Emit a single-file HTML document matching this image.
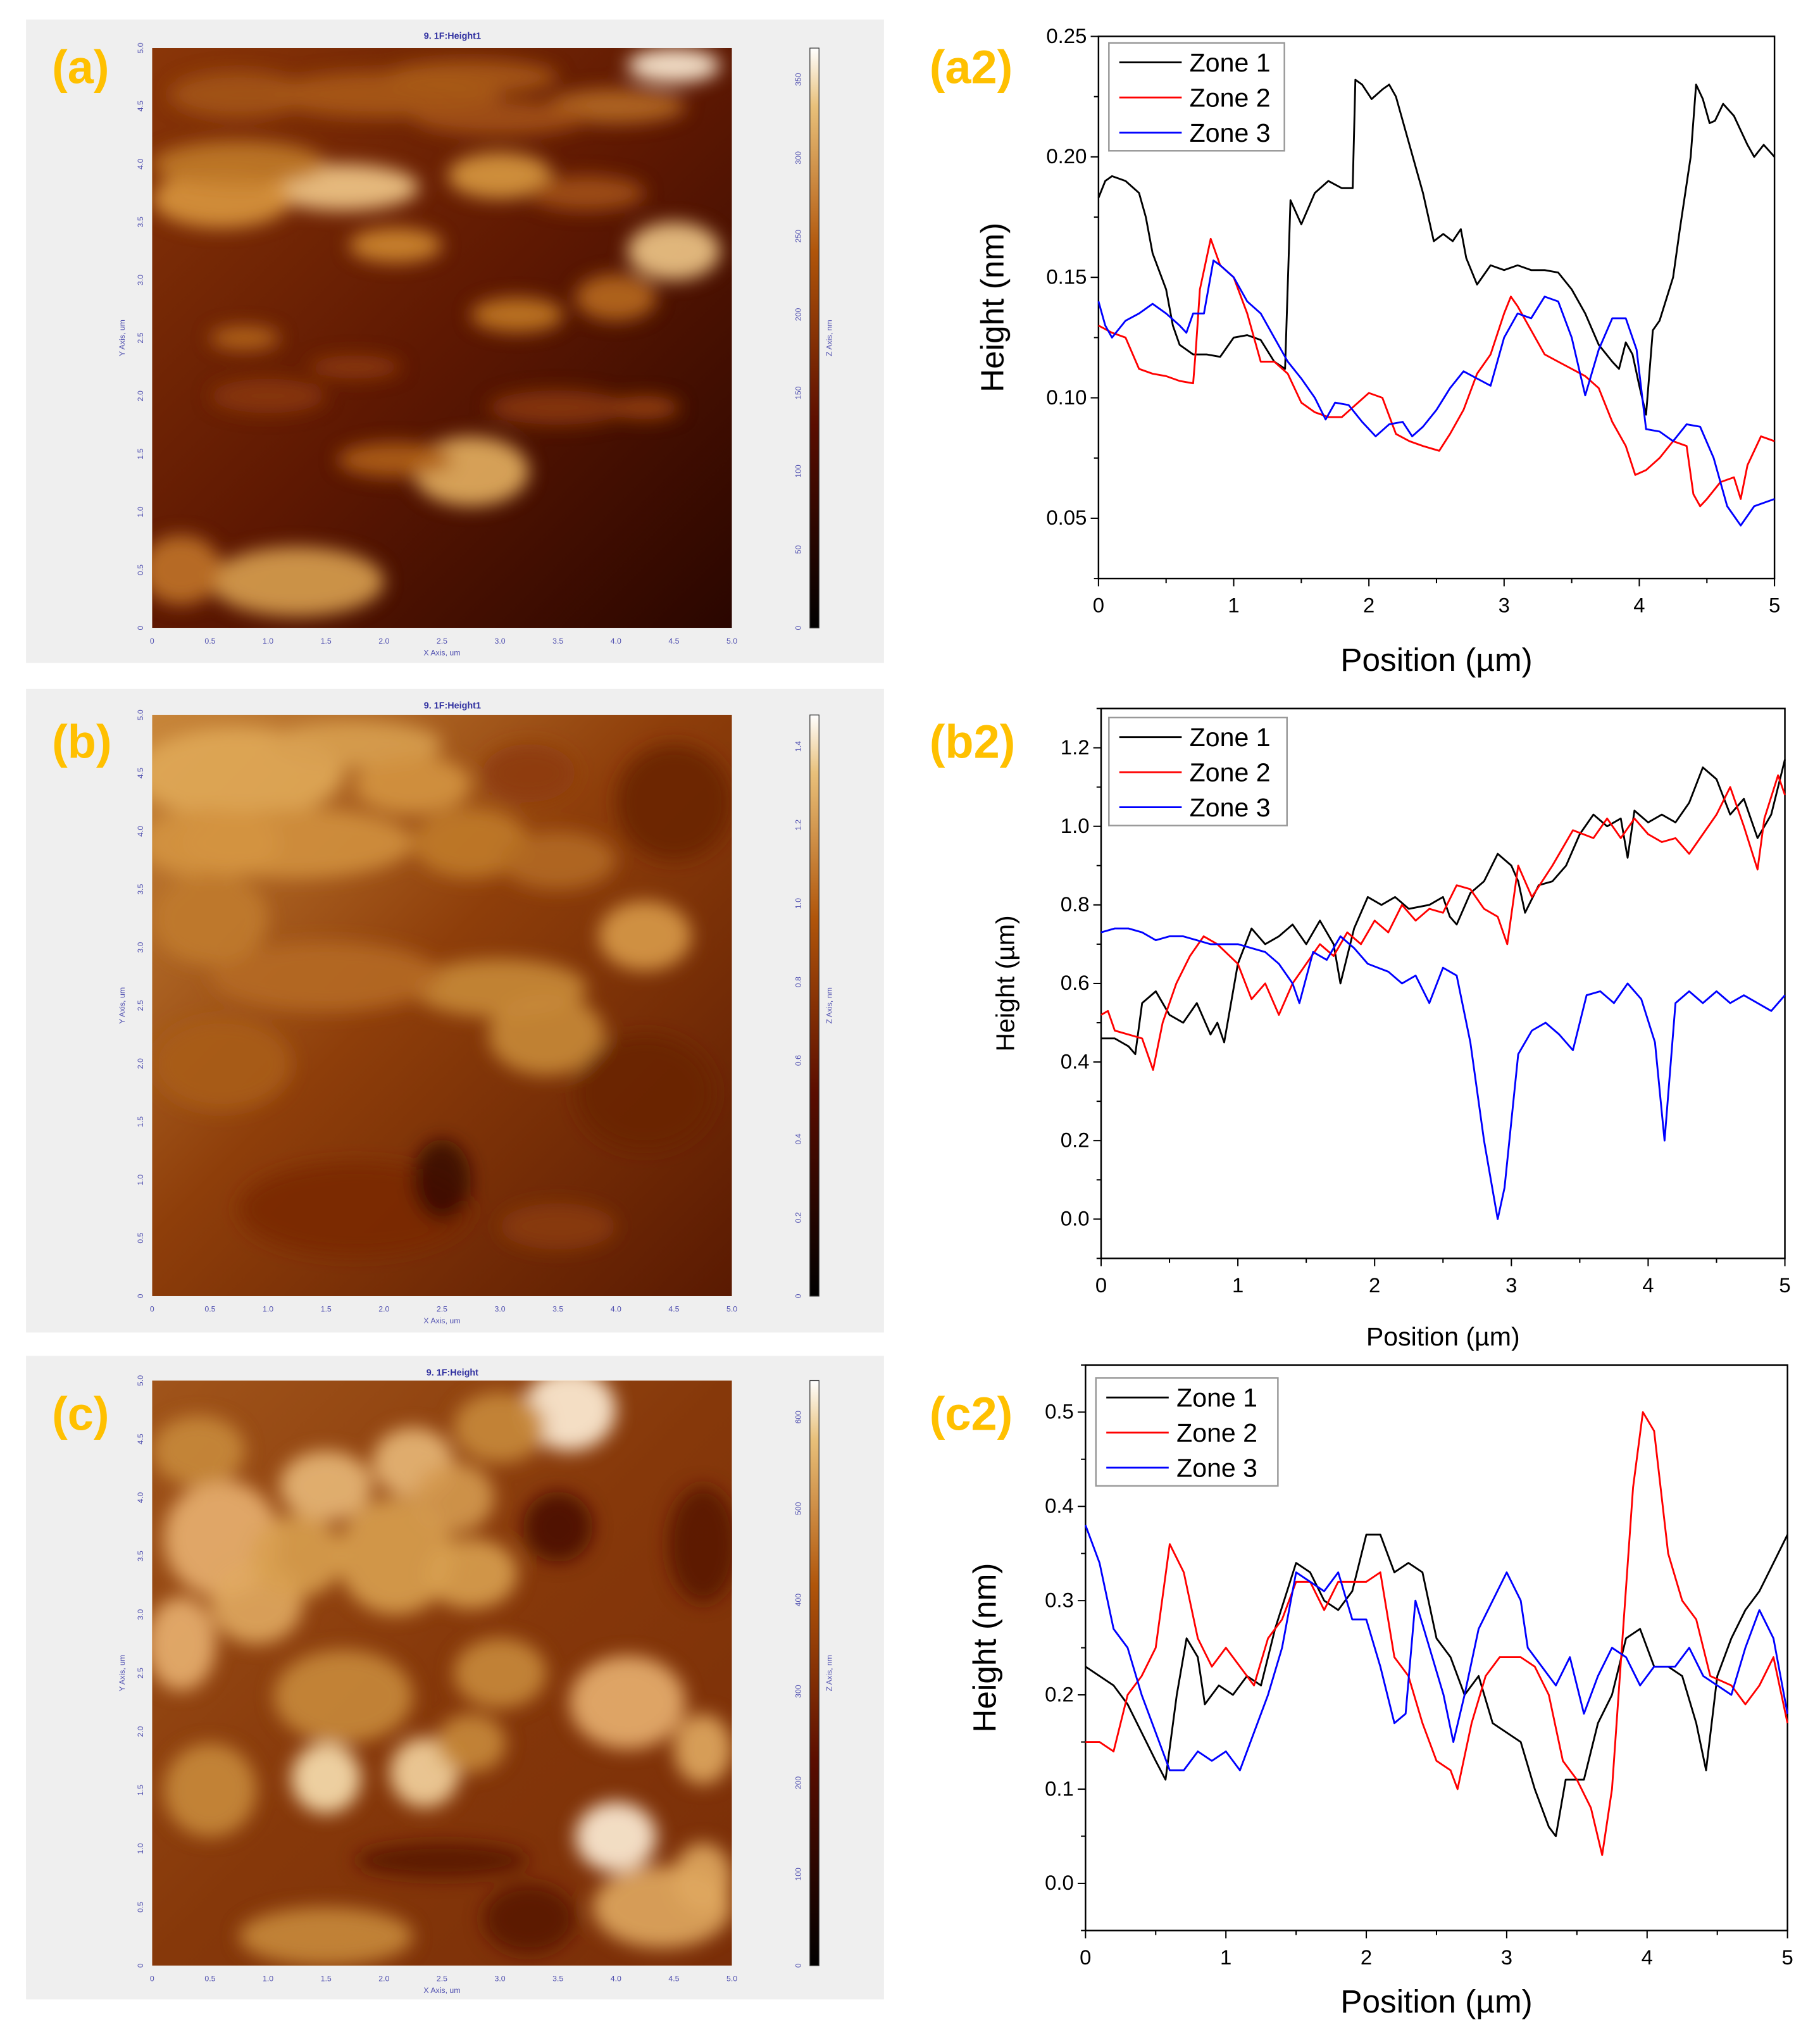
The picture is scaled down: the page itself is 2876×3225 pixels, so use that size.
<!DOCTYPE html>
<html><head><meta charset="utf-8">
<style>
html,body{margin:0;padding:0;background:#fff;}
svg{display:block;}
text{font-family:"Liberation Sans",Arial,sans-serif;}
</style></head>
<body>
<svg id="root" xmlns="http://www.w3.org/2000/svg" width="2876" height="3225" viewBox="0 0 1400 1570" preserveAspectRatio="none">
<defs>
<filter id="blur8" x="-50%" y="-50%" width="200%" height="200%"><feGaussianBlur stdDeviation="7"/></filter>
<linearGradient id="cbar" x1="0" y1="1" x2="0" y2="0">
<stop offset="0" stop-color="#000"/><stop offset="0.35" stop-color="#5a0d00"/><stop offset="0.65" stop-color="#b0550a"/><stop offset="0.9" stop-color="#e8c07a"/><stop offset="1" stop-color="#fff"/>
</linearGradient>
<linearGradient id="bgA" x1="0" y1="0" x2="1" y2="1">
<stop offset="0" stop-color="#8a3608"/><stop offset="0.5" stop-color="#5e1802"/><stop offset="1" stop-color="#2a0600"/>
</linearGradient>
<linearGradient id="bgB" x1="0" y1="0" x2="1" y2="1">
<stop offset="0" stop-color="#c8863a"/><stop offset="0.45" stop-color="#8e3e0a"/><stop offset="1" stop-color="#5a1a02"/>
</linearGradient>
<linearGradient id="bgC" x1="0" y1="0" x2="1" y2="1">
<stop offset="0" stop-color="#a0541a"/><stop offset="0.5" stop-color="#86380a"/><stop offset="1" stop-color="#7a2e08"/>
</linearGradient>
<clipPath id="clipA"><rect x="117" y="37" width="446" height="446"/></clipPath>
<clipPath id="clipB"><rect x="117" y="550" width="446" height="447"/></clipPath>
<clipPath id="clipC"><rect x="117" y="1062" width="446" height="450"/></clipPath>
</defs>
<g id="afm"></g>
<g id="charts"></g>
</svg>
<script>
const NS="http://www.w3.org/2000/svg";
function mk(tag,attrs,parent){const e=document.createElementNS(NS,tag);for(const k in attrs)e.setAttribute(k,attrs[k]);parent.appendChild(e);return e;}
const afm=document.getElementById('afm');
const charts=document.getElementById('charts');

/* ---------- AFM images (decorative) ---------- */
const blobsA=[[0.9,0.03,0.08,0.03,'#fff0d8'],[0.33,0.24,0.13,0.04,'#f2c98a'],[0.12,0.26,0.12,0.05,'#d9963e'],[0.15,0.2,0.15,0.04,'#c07a2a'],[0.6,0.22,0.09,0.04,'#d99a40'],[0.9,0.35,0.08,0.05,'#f0c888'],[0.42,0.34,0.08,0.03,'#d08a30'],[0.8,0.43,0.07,0.04,'#b86a1e'],[0.63,0.46,0.08,0.03,'#c47a24'],[0.16,0.5,0.06,0.02,'#b86a1e'],[0.55,0.73,0.1,0.06,'#e4b060'],[0.42,0.71,0.1,0.03,'#b06018'],[0.25,0.92,0.15,0.06,'#d8a050'],[0.05,0.9,0.07,0.06,'#c07428'],[0.4,0.08,0.2,0.04,'#a85a18'],[0.8,0.1,0.12,0.03,'#b56a22'],[0.2,0.6,0.1,0.03,'#8a3608'],[0.7,0.62,0.12,0.03,'#8a3608'],[0.6,0.12,0.15,0.03,'#a35216'],[0.15,0.08,0.12,0.04,'#a45418'],[0.55,0.05,0.15,0.03,'#a85a1a'],[0.75,0.25,0.1,0.03,'#a35216'],[0.35,0.55,0.08,0.02,'#8e3c0a'],[0.85,0.62,0.06,0.02,'#9a4410']];
const blobsB=[[0.15,0.1,0.18,0.08,'#e0a858'],[0.35,0.05,0.15,0.04,'#d8a050'],[0.25,0.22,0.2,0.06,'#d0903e'],[0.1,0.22,0.12,0.06,'#d49440'],[0.45,0.12,0.1,0.05,'#d49440'],[0.55,0.22,0.1,0.06,'#c07a2a'],[0.7,0.25,0.1,0.05,'#b26a22'],[0.85,0.38,0.08,0.06,'#d89a48'],[0.6,0.47,0.15,0.05,'#c88a38'],[0.68,0.55,0.1,0.07,'#c88a38'],[0.3,0.45,0.2,0.06,'#b56a22'],[0.12,0.6,0.12,0.08,'#a85c1a'],[0.35,0.85,0.2,0.08,'#7a2a04'],[0.7,0.88,0.1,0.04,'#8a3a08'],[0.85,0.65,0.12,0.1,'#6a2202'],[0.9,0.15,0.1,0.1,'#6a2202'],[0.5,0.8,0.05,0.07,'#3a0800'],[0.1,0.35,0.1,0.08,'#c07a2e'],[0.65,0.1,0.08,0.05,'#8e3c0a']];
const blobsC=[[0.72,0.05,0.08,0.07,'#fff0d8'],[0.3,0.18,0.08,0.06,'#e8b878'],[0.45,0.14,0.07,0.06,'#e8b878'],[0.12,0.27,0.1,0.1,'#e8b070'],[0.18,0.38,0.08,0.07,'#e0a860'],[0.05,0.45,0.06,0.08,'#e8b070'],[0.42,0.3,0.1,0.1,'#d8a050'],[0.55,0.33,0.08,0.06,'#d8a050'],[0.8,0.78,0.07,0.06,'#fff0d8'],[0.82,0.55,0.1,0.08,'#e8b070'],[0.3,0.68,0.06,0.06,'#f8e0b0'],[0.47,0.67,0.06,0.06,'#f4d4a0'],[0.33,0.54,0.12,0.08,'#c88a3a'],[0.6,0.5,0.08,0.06,'#c88a3a'],[0.95,0.63,0.05,0.06,'#e0a860'],[0.1,0.7,0.08,0.08,'#c88a3a'],[0.88,0.9,0.12,0.07,'#e0a860'],[0.3,0.95,0.15,0.05,'#c88a3a'],[0.7,0.25,0.06,0.06,'#4a1000'],[0.65,0.92,0.08,0.06,'#5a1602'],[0.5,0.82,0.15,0.03,'#5a1602'],[0.95,0.28,0.06,0.1,'#5a1602'],[0.25,0.3,0.08,0.07,'#d8a050'],[0.52,0.2,0.07,0.06,'#d49a50'],[0.08,0.12,0.08,0.06,'#c88a3a'],[0.6,0.08,0.08,0.06,'#c88a3a'],[0.55,0.62,0.06,0.05,'#c88a3a'],[0.95,0.85,0.05,0.06,'#e0a860']];

function afmPanel(name,y0,imgY,imgH,grad,clip,blobs,title,cbTicks){
  const g=mk('g',{},afm);
  
  
  mk('rect',{x:20,y:y0,width:660,height:495,fill:'#efefef'},g);
  const ig=mk('g',{'clip-path':'url(#'+clip+')'},g);
  mk('rect',{x:117,y:imgY,width:446,height:imgH,fill:'url(#'+grad+')'},ig);
  const bg=mk('g',{filter:'url(#blur8)'},ig);
  blobs.forEach(b=>{mk('ellipse',{cx:117+b[0]*446,cy:imgY+b[1]*imgH,rx:b[2]*446,ry:b[3]*imgH,fill:b[4],opacity:0.9},bg);});
  const t=mk('text',{x:348,y:y0+15,'font-size':7,fill:'#3030a0','text-anchor':'middle','font-weight':'bold'},g);t.textContent=title;
  const xl=['0','0.5','1.0','1.5','2.0','2.5','3.0','3.5','4.0','4.5','5.0'];
  xl.forEach((s,i)=>{const tx=mk('text',{x:117+i*44.6,y:imgY+imgH+12,'font-size':6,fill:'#5050b0','text-anchor':'middle'},g);tx.textContent=s;
    const ty=mk('text',{x:110,y:imgY+imgH-i*imgH/10,'font-size':6,fill:'#5050b0','text-anchor':'middle',transform:'rotate(-90 110 '+(imgY+imgH-i*imgH/10)+')'},g);ty.textContent=s;});
  const xa=mk('text',{x:340,y:imgY+imgH+21,'font-size':6,fill:'#5050b0','text-anchor':'middle'},g);xa.textContent='X Axis, um';
  const ya=mk('text',{x:96,y:imgY+imgH/2,'font-size':6,fill:'#5050b0','text-anchor':'middle',transform:'rotate(-90 96 '+(imgY+imgH/2)+')'},g);ya.textContent='Y Axis, um';
  const cb=mk('rect',{x:623,y:imgY,width:7,height:imgH,fill:'url(#cbar)',stroke:'#333','stroke-width':0.6},g);
  
  
  cbTicks.forEach((s,i)=>{const yy=imgY+imgH-i*imgH/(cbTicks.length-0.6);const tx=mk('text',{x:616,y:yy,'font-size':6,fill:'#5050b0','text-anchor':'middle',transform:'rotate(-90 616 '+yy+')'},g);tx.textContent=s;});
  const za=mk('text',{x:640,y:imgY+imgH/2,'font-size':6,fill:'#5050b0','text-anchor':'middle',transform:'rotate(-90 640 '+(imgY+imgH/2)+')'},g);za.textContent='Z Axis, nm';
}
afmPanel('afm-image-a',15,37,446,'bgA','clipA',blobsA,'9. 1F:Height1',['0','50','100','150','200','250','300','350']);
afmPanel('afm-image-b',530,550,447,'bgB','clipB',blobsB,'9. 1F:Height1',['0','0.2','0.4','0.6','0.8','1.0','1.2','1.4']);
afmPanel('afm-image-c',1043,1062,450,'bgC','clipC',blobsC,'9. 1F:Height',['0','100','200','300','400','500','600']);
[['(a)',40,64],['(b)',40,583],['(c)',40,1100],['(a2)',715,64],['(b2)',715,583],['(c2)',715,1100]].forEach(p=>{
  const t=mk('text',{x:p[1],y:p[2],'font-size':36,'font-weight':'bold',fill:'#ffc000'},afm);
  
  
  t.textContent=p[0];
});

/* ---------- chart data ---------- */
const a2_z1_x=[0,0.05,0.1,0.2,0.3,0.35,0.4,0.5,0.55,0.6,0.7,0.8,0.9,1.0,1.1,1.2,1.3,1.38,1.42,1.5,1.6,1.7,1.8,1.88,1.9,1.95,2.02,2.1,2.15,2.2,2.3,2.4,2.48,2.55,2.62,2.68,2.72,2.8,2.9,3.0,3.1,3.2,3.3,3.4,3.5,3.6,3.7,3.8,3.85,3.9,3.95,4.0,4.05,4.1,4.15,4.25,4.3,4.38,4.42,4.47,4.52,4.56,4.62,4.7,4.8,4.85,4.92,5.0];
const a2_z1_y=[0.183,0.19,0.192,0.19,0.185,0.175,0.16,0.145,0.13,0.122,0.118,0.118,0.117,0.125,0.126,0.124,0.115,0.112,0.182,0.172,0.185,0.19,0.187,0.187,0.232,0.23,0.224,0.228,0.23,0.225,0.205,0.185,0.165,0.168,0.165,0.17,0.158,0.147,0.155,0.153,0.155,0.153,0.153,0.152,0.145,0.135,0.122,0.115,0.112,0.123,0.118,0.105,0.093,0.128,0.132,0.15,0.17,0.2,0.23,0.224,0.214,0.215,0.222,0.217,0.205,0.2,0.205,0.2];
const a2_z2_x=[0,0.1,0.2,0.3,0.4,0.5,0.6,0.7,0.72,0.75,0.83,0.9,1.0,1.1,1.2,1.3,1.4,1.5,1.6,1.7,1.8,1.9,2.0,2.1,2.2,2.3,2.4,2.52,2.6,2.7,2.8,2.9,3.0,3.05,3.1,3.2,3.3,3.4,3.5,3.6,3.7,3.8,3.9,3.97,4.05,4.15,4.25,4.35,4.4,4.45,4.5,4.6,4.7,4.75,4.8,4.9,5.0];
const a2_z2_y=[0.13,0.127,0.125,0.112,0.11,0.109,0.107,0.106,0.12,0.145,0.166,0.155,0.15,0.135,0.115,0.115,0.11,0.098,0.094,0.092,0.092,0.097,0.102,0.1,0.085,0.082,0.08,0.078,0.085,0.095,0.11,0.118,0.135,0.142,0.138,0.128,0.118,0.115,0.112,0.109,0.104,0.09,0.08,0.068,0.07,0.075,0.082,0.08,0.06,0.055,0.058,0.065,0.067,0.058,0.072,0.084,0.082];
const a2_z3_x=[0,0.05,0.1,0.2,0.3,0.4,0.5,0.6,0.65,0.7,0.78,0.85,0.9,1.0,1.1,1.2,1.3,1.4,1.5,1.6,1.68,1.75,1.85,1.95,2.05,2.15,2.25,2.32,2.4,2.5,2.6,2.7,2.8,2.9,3.0,3.1,3.2,3.3,3.4,3.5,3.6,3.7,3.8,3.9,3.98,4.05,4.15,4.25,4.35,4.45,4.55,4.65,4.75,4.85,5.0];
const a2_z3_y=[0.14,0.13,0.125,0.132,0.135,0.139,0.135,0.13,0.127,0.135,0.135,0.157,0.155,0.15,0.14,0.135,0.125,0.115,0.108,0.1,0.091,0.098,0.097,0.09,0.084,0.089,0.09,0.084,0.088,0.095,0.104,0.111,0.108,0.105,0.125,0.135,0.133,0.142,0.14,0.125,0.101,0.12,0.133,0.133,0.12,0.087,0.086,0.082,0.089,0.088,0.075,0.055,0.047,0.055,0.058];

const b2_z1_x=[0,0.1,0.2,0.25,0.3,0.4,0.5,0.6,0.7,0.8,0.85,0.9,1.0,1.1,1.2,1.3,1.4,1.5,1.6,1.7,1.75,1.85,1.95,2.05,2.15,2.25,2.4,2.5,2.55,2.6,2.7,2.8,2.9,3.0,3.05,3.1,3.2,3.3,3.4,3.5,3.6,3.7,3.8,3.85,3.9,4.0,4.1,4.2,4.3,4.4,4.5,4.6,4.7,4.8,4.9,5.0];
const b2_z1_y=[0.46,0.46,0.44,0.42,0.55,0.58,0.52,0.5,0.55,0.47,0.5,0.45,0.65,0.74,0.7,0.72,0.75,0.7,0.76,0.7,0.6,0.74,0.82,0.8,0.82,0.79,0.8,0.82,0.77,0.75,0.83,0.86,0.93,0.9,0.86,0.78,0.85,0.86,0.9,0.98,1.03,1.0,1.02,0.92,1.04,1.01,1.03,1.01,1.06,1.15,1.12,1.03,1.07,0.97,1.03,1.17];
const b2_z2_x=[0,0.05,0.1,0.2,0.3,0.38,0.45,0.55,0.65,0.75,0.85,1.0,1.1,1.2,1.3,1.4,1.5,1.6,1.7,1.8,1.9,2.0,2.1,2.2,2.3,2.4,2.5,2.6,2.7,2.8,2.9,2.97,3.05,3.15,3.3,3.45,3.6,3.7,3.8,3.9,4.0,4.1,4.2,4.3,4.4,4.5,4.6,4.7,4.8,4.85,4.95,5.0];
const b2_z2_y=[0.52,0.53,0.48,0.47,0.46,0.38,0.5,0.6,0.67,0.72,0.7,0.65,0.56,0.6,0.52,0.6,0.65,0.7,0.67,0.73,0.7,0.76,0.73,0.8,0.76,0.79,0.78,0.85,0.84,0.79,0.77,0.7,0.9,0.82,0.9,0.99,0.97,1.02,0.97,1.02,0.98,0.96,0.97,0.93,0.98,1.03,1.1,1.0,0.89,1.02,1.13,1.08];
const b2_z3_x=[0,0.1,0.2,0.3,0.4,0.5,0.6,0.7,0.8,0.9,1.0,1.1,1.2,1.3,1.4,1.45,1.55,1.65,1.75,1.85,1.95,2.1,2.2,2.3,2.4,2.5,2.6,2.7,2.8,2.9,2.95,3.05,3.15,3.25,3.35,3.45,3.55,3.65,3.75,3.85,3.95,4.05,4.12,4.2,4.3,4.4,4.5,4.6,4.7,4.8,4.9,5.0];
const b2_z3_y=[0.73,0.74,0.74,0.73,0.71,0.72,0.72,0.71,0.7,0.7,0.7,0.69,0.68,0.65,0.6,0.55,0.68,0.66,0.72,0.69,0.65,0.63,0.6,0.62,0.55,0.64,0.62,0.45,0.2,0.0,0.08,0.42,0.48,0.5,0.47,0.43,0.57,0.58,0.55,0.6,0.56,0.45,0.2,0.55,0.58,0.55,0.58,0.55,0.57,0.55,0.53,0.57];

const c2_z1_x=[0,0.1,0.2,0.3,0.4,0.5,0.57,0.65,0.72,0.8,0.85,0.95,1.05,1.15,1.25,1.35,1.5,1.6,1.7,1.8,1.9,2.0,2.1,2.2,2.3,2.4,2.5,2.6,2.7,2.8,2.9,3.0,3.1,3.2,3.3,3.35,3.42,3.55,3.65,3.75,3.85,3.95,4.05,4.15,4.25,4.35,4.42,4.5,4.6,4.7,4.8,4.9,5.0];
const c2_z1_y=[0.23,0.22,0.21,0.19,0.16,0.13,0.11,0.2,0.26,0.24,0.19,0.21,0.2,0.22,0.21,0.27,0.34,0.33,0.3,0.29,0.31,0.37,0.37,0.33,0.34,0.33,0.26,0.24,0.2,0.22,0.17,0.16,0.15,0.1,0.06,0.05,0.11,0.11,0.17,0.2,0.26,0.27,0.23,0.23,0.22,0.17,0.12,0.22,0.26,0.29,0.31,0.34,0.37];
const c2_z2_x=[0,0.1,0.2,0.3,0.4,0.5,0.6,0.7,0.8,0.9,1.0,1.1,1.2,1.3,1.4,1.5,1.6,1.7,1.8,1.9,2.0,2.1,2.2,2.3,2.4,2.5,2.6,2.65,2.75,2.85,2.95,3.1,3.2,3.3,3.4,3.5,3.6,3.68,3.75,3.82,3.9,3.97,4.05,4.15,4.25,4.35,4.45,4.6,4.7,4.8,4.9,5.0];
const c2_z2_y=[0.15,0.15,0.14,0.2,0.22,0.25,0.36,0.33,0.26,0.23,0.25,0.23,0.21,0.26,0.28,0.32,0.32,0.29,0.32,0.32,0.32,0.33,0.24,0.22,0.17,0.13,0.12,0.1,0.17,0.22,0.24,0.24,0.23,0.2,0.13,0.11,0.08,0.03,0.1,0.25,0.42,0.5,0.48,0.35,0.3,0.28,0.22,0.21,0.19,0.21,0.24,0.17];
const c2_z3_x=[0,0.1,0.2,0.3,0.4,0.5,0.6,0.7,0.8,0.9,1.0,1.1,1.2,1.3,1.4,1.5,1.6,1.7,1.8,1.9,2.0,2.1,2.2,2.28,2.35,2.45,2.55,2.62,2.7,2.8,2.9,3.0,3.1,3.15,3.25,3.35,3.45,3.55,3.65,3.75,3.85,3.95,4.05,4.2,4.3,4.4,4.5,4.6,4.7,4.8,4.9,5.0];
const c2_z3_y=[0.38,0.34,0.27,0.25,0.2,0.16,0.12,0.12,0.14,0.13,0.14,0.12,0.16,0.2,0.25,0.33,0.32,0.31,0.33,0.28,0.28,0.23,0.17,0.18,0.3,0.25,0.2,0.15,0.2,0.27,0.3,0.33,0.3,0.25,0.23,0.21,0.24,0.18,0.22,0.25,0.24,0.21,0.23,0.23,0.25,0.22,0.21,0.2,0.25,0.29,0.26,0.18];

const xTicks=[0,1,2,3,4,5];
const a2_yTicks=[0.05,0.10,0.15,0.20,0.25];
const a2_yLabels=['0.05','0.10','0.15','0.20','0.25'];
const b2_yTicks=[0.0,0.2,0.4,0.6,0.8,1.0,1.2];
const b2_yLabels=['0.0','0.2','0.4','0.6','0.8','1.0','1.2'];
const c2_yTicks=[0.0,0.1,0.2,0.3,0.4,0.5];
const c2_yLabels=['0.0','0.1','0.2','0.3','0.4','0.5'];
const zoneNames=['Zone 1','Zone 2','Zone 3'];
const zoneColors=['#000','#ff0000','#0000ff'];

function chart(o){
  const g=mk('g',{},charts);
  
  
  const sx=v=>o.L+(v-0)/(5-0)*(o.R-o.L);
  const sy=v=>o.B-(v-o.ymin)/(o.ymax-o.ymin)*(o.B-o.T);
  mk('rect',{x:o.L,y:o.T,width:o.R-o.L,height:o.B-o.T,fill:'#fff',stroke:'#000','stroke-width':1.2},g);
  for(let v=0;v<=5.001;v+=0.5){const major=Math.abs(v-Math.round(v))<1e-6;
    mk('line',{x1:sx(v),y1:o.B,x2:sx(v),y2:o.B+(major?6:3.5),stroke:'#000','stroke-width':1},g);}
  xTicks.forEach(v=>{const t=mk('text',{x:sx(v),y:o.B+26,'font-size':o.tf,'text-anchor':'middle',fill:'#000'},g);
    
    
    t.textContent=String(v);});
  const step=o.yTicks[1]-o.yTicks[0];
  for(let v=o.yTicks[0]-step;v<=o.ymax+1e-9;v+=step/2){if(v<o.ymin-1e-9)continue;
    const major=o.yTicks.some(t=>Math.abs(t-v)<1e-6);
    mk('line',{x1:o.L,y1:sy(v),x2:o.L-(major?6:3.5),y2:sy(v),stroke:'#000','stroke-width':1},g);}
  o.yTicks.forEach((v,i)=>{const t=mk('text',{x:o.L-9,y:sy(v)+5,'font-size':o.tf,'text-anchor':'end',fill:'#000'},g);
    
    
    t.textContent=o.yLabels[i];});
  const xt=mk('text',{x:(o.L+o.R)/2,y:o.xtY,'font-size':o.af,'text-anchor':'middle',fill:'#000'},g);
  
  
  xt.textContent='Position (\u00b5m)';
  const yt=mk('text',{x:o.ytX,y:(o.T+o.B)/2,'font-size':o.af,'text-anchor':'middle',fill:'#000',transform:'rotate(-90 '+o.ytX+' '+((o.T+o.B)/2)+')'},g);
  
  
  yt.textContent=o.ylabel;
  o.series.forEach((s,k)=>{
    const d=s[0].map((x,i)=>(i?'L':'M')+sx(x).toFixed(2)+' '+sy(s[1][i]).toFixed(2)).join(' ');
    const p=mk('path',{d:d,fill:'none',stroke:zoneColors[k],'stroke-width':1.4,'stroke-linejoin':'round'},g);
    
    
  });
  const lg=mk('g',{},g);
  
  
  mk('rect',{x:o.lx,y:o.ly,width:o.lw,height:83,fill:'#fff',stroke:'#999','stroke-width':1.2},lg);
  zoneNames.forEach((n,k)=>{const yy=o.ly+15+k*27;
    const e=mk('g',{},lg);
    
    
    mk('line',{x1:o.lx+8,y1:yy,x2:o.lx+56,y2:yy,stroke:zoneColors[k],'stroke-width':1.4},e);
    const t=mk('text',{x:o.lx+62,y:yy+7,'font-size':20,fill:'#000'},e);t.textContent=n;});
}
chart({name:'chart-a2',L:845,R:1365,T:28,B:445,ymin:0.025,ymax:0.25,yTicks:a2_yTicks,yLabels:a2_yLabels,tf:16,af:25,ylabel:'Height (nm)',xtY:516,ytX:772,lx:853,ly:33,lw:135,
  series:[[a2_z1_x,a2_z1_y],[a2_z2_x,a2_z2_y],[a2_z3_x,a2_z3_y]]});
chart({name:'chart-b2',L:847,R:1373,T:545,B:968,ymin:-0.1,ymax:1.3,yTicks:b2_yTicks,yLabels:b2_yLabels,tf:16,af:20,ylabel:'Height (\u00b5m)',xtY:1035,ytX:780,lx:853,ly:552,lw:137,
  series:[[b2_z1_x,b2_z1_y],[b2_z2_x,b2_z2_y],[b2_z3_x,b2_z3_y]]});
chart({name:'chart-c2',L:835,R:1375,T:1050,B:1485,ymin:-0.05,ymax:0.55,yTicks:c2_yTicks,yLabels:c2_yLabels,tf:16,af:25,ylabel:'Height (nm)',xtY:1548,ytX:766,lx:843,ly:1060,lw:140,
  series:[[c2_z1_x,c2_z1_y],[c2_z2_x,c2_z2_y],[c2_z3_x,c2_z3_y]]});
</script>
</body></html>
